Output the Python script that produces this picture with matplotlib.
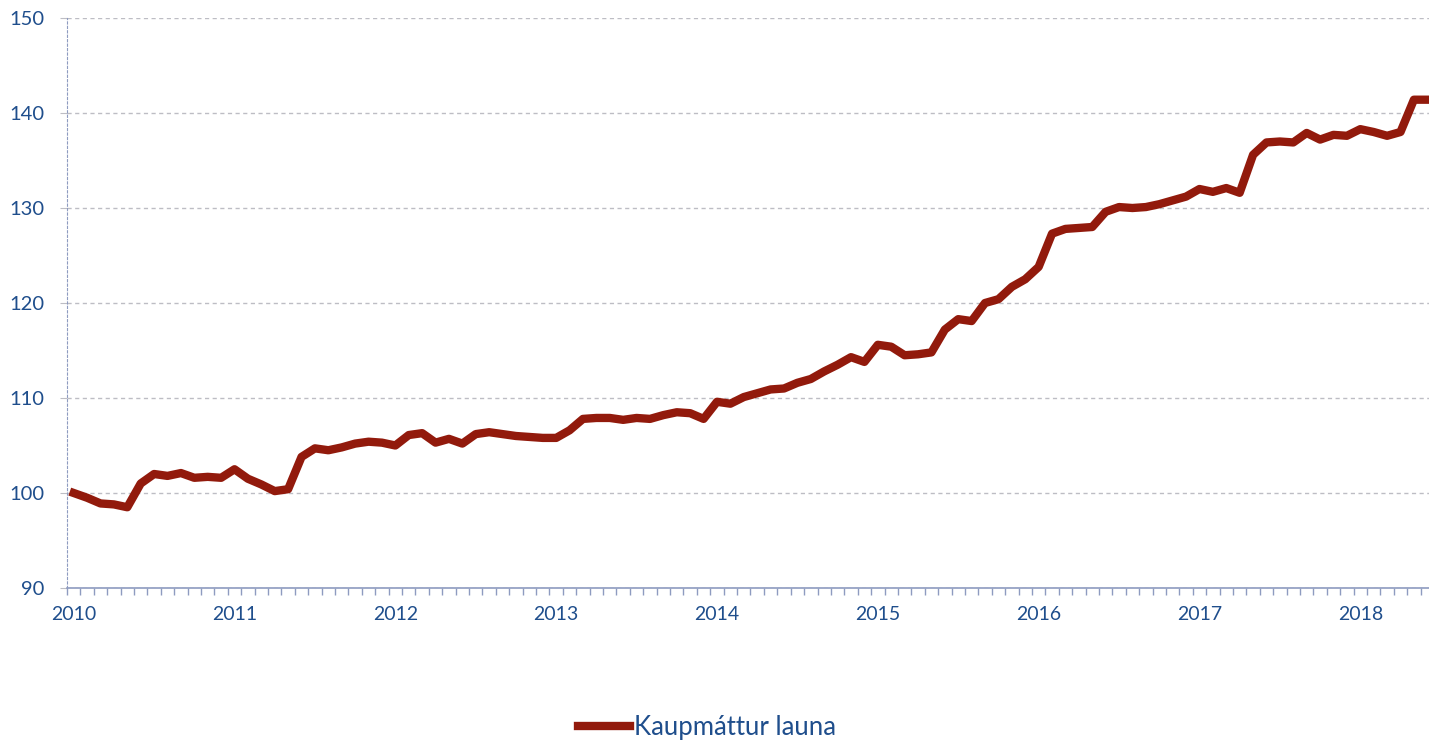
import numpy as np
import matplotlib.pyplot as plt
from matplotlib.ticker import FixedLocator

plt.rcParams['font.family'] = ['Lato', 'DejaVu Sans']

# monthly index, Jan 2010 = 100 (Jan 2010 .. Jun 2018)
values = [
    100.0, 99.5, 98.9, 98.8, 98.5, 101.0, 102.0, 101.8, 102.1, 101.6, 101.7, 101.6,
    102.5, 101.5, 100.9, 100.2, 100.4, 103.8, 104.7, 104.5, 104.8, 105.2, 105.4, 105.3,
    105.0, 106.1, 106.3, 105.3, 105.7, 105.2, 106.2, 106.4, 106.2, 106.0, 105.9, 105.8,
    105.8, 106.6, 107.8, 107.9, 107.9, 107.7, 107.9, 107.8, 108.2, 108.5, 108.4, 107.8,
    109.6, 109.4, 110.1, 110.5, 110.9, 111.0, 111.6, 112.0, 112.8, 113.5, 114.3, 113.8,
    115.6, 115.4, 114.5, 114.6, 114.8, 117.2, 118.3, 118.1, 120.0, 120.4, 121.7, 122.5,
    123.8, 127.3, 127.8, 127.9, 128.0, 129.6, 130.1, 130.0, 130.1, 130.4, 130.8, 131.2,
    132.0, 131.7, 132.1, 131.6, 135.6, 136.9, 137.0, 136.9, 137.9, 137.2, 137.7, 137.6,
    138.3, 138.0, 137.6, 138.0, 141.4, 141.4,
]
years = [str(y) for y in range(2010, 2019)]
label = 'Kaupmáttur launa'

LINE = '#921A0C'
TEXT = '#1F4E8C'
AXIS = '#8E9BC0'
GRID = '#BDBDC4'

W, H = 1429, 741
fig = plt.figure(figsize=(W / 100, H / 100), dpi=100)
ax = fig.add_axes([67 / W, (H - 588) / H, (1434 - 67) / W, (588 - 18) / H])

x = np.arange(len(values))
ax.plot(x, values, color=LINE, lw=6, solid_joinstyle='round', label=label,
        clip_on=False, zorder=3)

ax.set_xlim(-0.5, 101.5)
ax.set_ylim(90, 150)

ax.set_yticks(range(90, 151, 10))
ax.yaxis.grid(True, color=GRID, ls=(0, (3, 2.5)), lw=1)
ax.tick_params(axis='y', length=5, color=GRID, labelcolor=TEXT, labelsize=14.5, pad=11)

ax.set_xticks(np.arange(0, len(values), 12))
ax.set_xticklabels(years)
ax.xaxis.set_minor_locator(FixedLocator(np.arange(-0.5, len(values) + 0.5, 1)))
ax.tick_params(axis='x', which='major', length=0, labelcolor=TEXT, labelsize=14, pad=13)
ax.tick_params(axis='x', which='minor', length=5, width=1, color=AXIS)

for s in ['top', 'right']:
    ax.spines[s].set_visible(False)
ax.spines['bottom'].set_color(AXIS)
ax.spines['bottom'].set_linewidth(1.2)
ax.spines['left'].set_color(AXIS)
ax.spines['left'].set_linestyle((0, (2, 2)))

fig.legend(loc='center', bbox_to_anchor=(707 / W, 1 - 727 / H), frameon=False,
           fontsize=18.5, labelcolor=TEXT, handlelength=2.0, handletextpad=0.15)

fig.savefig('out.png', dpi=100)
